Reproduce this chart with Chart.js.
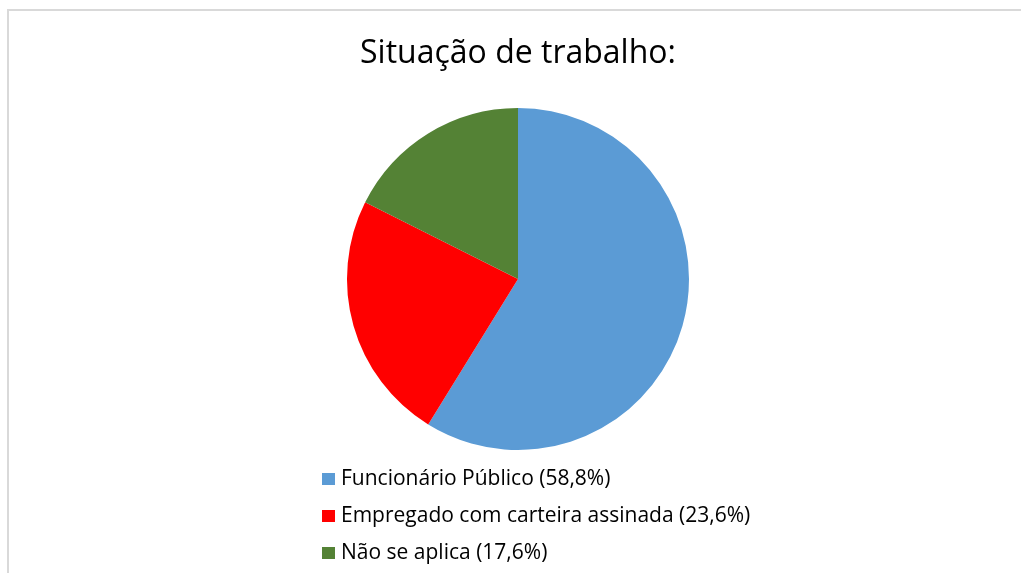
<!DOCTYPE html>
<html>
<head>
<meta charset="utf-8">
<script src="https://cdn.jsdelivr.net/npm/chart.js@4"></script>
<style>
  html, body { margin: 0; padding: 0; background: #fff; overflow: hidden; }
  #frame { position: absolute; left: 7px; top: 9px; right: 0; bottom: 0; border-left: 2px solid #d9d9d9; border-top: 2px solid #d9d9d9; }
  #wrap { position: absolute; left: 0; top: 0; width: 1021px; height: 573px; }
</style>
</head>
<body>
<div id="frame"></div>
<div id="wrap"><canvas id="situacaoChart" width="1021" height="573"></canvas></div>
<script>
const categories = ["Funcionário Público", "Empregado com carteira assinada", "Não se aplica"];
const percentages = [58.8, 23.6, 17.6];
const colors = ["#5B9BD5", "#FF0000", "#548235"];
const labels = categories.map((c, i) => c + " (" + percentages[i].toFixed(1).replace(".", ",") + "%)");

const fontFamily = "'Open Sans', Lato, sans-serif";

// vertical legend under the pie, drawn from the chart's own legend items
const listLegend = {
    id: "listLegend",
    afterDraw(chart) {
        const ctx = chart.ctx;
        const items = chart.options.plugins.legend.labels.generateLabels(chart);
        ctx.save();
        ctx.font = "21px " + fontFamily;
        ctx.textBaseline = "middle";
        ctx.textAlign = "left";
        items.forEach((item, i) => {
            const y = 479 + i * 37;
            ctx.fillStyle = item.fillStyle;
            ctx.fillRect(322, y - 6, 13, 12);
            ctx.fillStyle = "#000";
            ctx.fillText(item.text, 341, y);
        });
        ctx.restore();
    }
};

const ctx = document.getElementById("situacaoChart").getContext("2d");
new Chart(ctx, {
    type: "pie",
    data: {
        labels: labels,
        datasets: [{
            data: percentages,
            backgroundColor: colors,
            borderWidth: 0
        }]
    },
    options: {
        responsive: false,
        animation: false,
        layout: {
            padding: { top: 0, bottom: 123, left: 15, right: 0 }
        },
        plugins: {
            legend: { display: false },
            tooltip: { enabled: false },
            title: {
                display: true,
                text: "Situação de trabalho:",
                color: "#000",
                font: { family: fontFamily, size: 32, weight: "normal", lineHeight: 1.2 },
                padding: { top: 35, bottom: 34.6 }
            }
        }
    },
    plugins: [listLegend]
});
</script>
</body>
</html>
